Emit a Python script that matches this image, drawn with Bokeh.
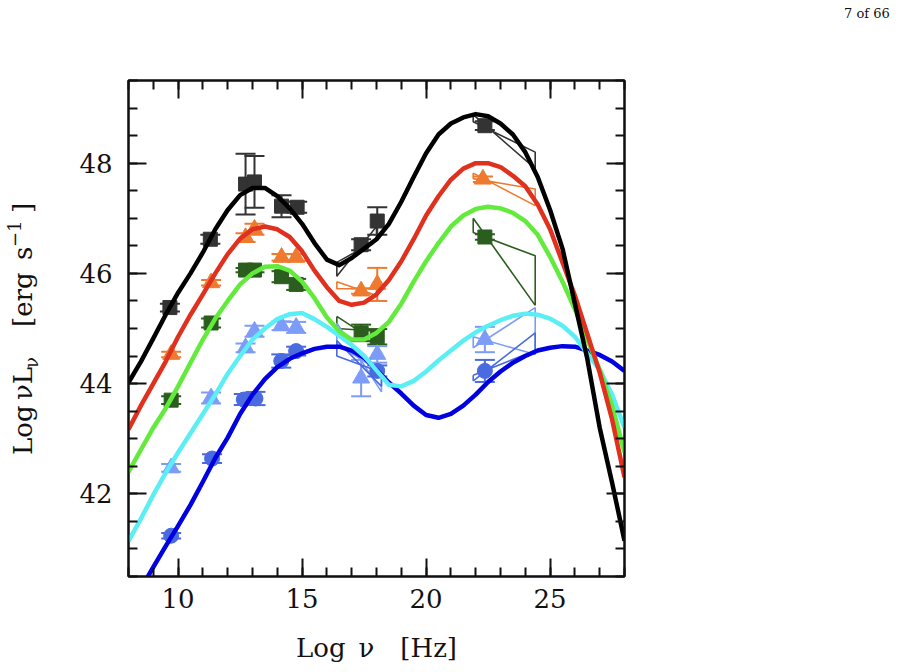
from bokeh.plotting import figure
from bokeh.layouts import row
from bokeh.models import Range1d, FixedTicker, LinearAxis, Div
from bokeh.embed import file_html
from bokeh.resources import INLINE

# ---------------- axis ticks ----------------
X_TICKS = [10, 15, 20, 25]
X_TICK_LABELS = ["10", "15", "20", "25"]
X_MINOR = [8, 9, 10, 11, 12, 13, 14, 15, 16, 17, 18, 19, 20, 21, 22, 23, 24, 25, 26, 27, 28]
Y_TICKS = [42, 44, 46, 48]
Y_TICK_LABELS = ["42", "44", "46", "48"]
Y_MINOR = [40.5, 41, 41.5, 42, 42.5, 43, 43.5, 44, 44.5, 45, 45.5, 46, 46.5, 47,
           47.5, 48, 48.5, 49, 49.5]

# ---------------- model curves ----------------
CURVE_X = [8, 8.5, 9, 9.5, 10, 10.5, 11, 11.5, 12, 12.5, 13, 13.5, 14, 14.5, 15, 15.5,
           16, 16.5, 17, 17.5, 18, 18.5, 19, 19.5, 20, 20.5, 21, 21.5, 22, 22.5, 23,
           23.5, 24, 24.5, 25, 25.5, 26, 26.5, 27, 27.5, 28]
CURVE_BLACK = [44.02, 44.4, 44.82, 45.25, 45.65, 46.0, 46.38, 46.8, 47.15, 47.42, 47.55,
               47.55, 47.4, 47.18, 46.9, 46.55, 46.25, 46.15, 46.28, 46.45, 46.62, 46.9,
               47.3, 47.75, 48.18, 48.52, 48.72, 48.83, 48.89, 48.85, 48.72, 48.52, 48.2,
               47.75, 47.15, 46.45, 45.45, 44.45, 43.2, 42.2, 41.15]
CURVE_RED = [43.17, 43.6, 44.0, 44.4, 44.85, 45.25, 45.62, 46.0, 46.35, 46.63, 46.8,
             46.85, 46.8, 46.66, 46.4, 46.05, 45.75, 45.5, 45.43, 45.47, 45.62, 45.88,
             46.22, 46.62, 47.05, 47.4, 47.7, 47.9, 48.0, 48.0, 47.93, 47.77, 47.58,
             47.25, 46.8, 46.2, 45.6, 44.9, 44.2, 43.35, 42.3]
CURVE_GREEN = [42.4, 42.8, 43.2, 43.55, 43.95, 44.38, 44.8, 45.18, 45.5, 45.8, 46.0,
               46.12, 46.13, 46.05, 45.85, 45.55, 45.2, 44.95, 44.8, 44.8, 44.92, 45.12,
               45.45, 45.85, 46.22, 46.55, 46.85, 47.05, 47.17, 47.21, 47.18, 47.1,
               46.95, 46.7, 46.3, 45.85, 45.35, 44.8, 44.25, 43.6, 42.75]
CURVE_CYAN = [41.14, 41.55, 41.98, 42.38, 42.75, 43.1, 43.45, 43.8, 44.18, 44.5, 44.8,
              45.0, 45.17, 45.26, 45.28, 45.17, 45.03, 44.87, 44.7, 44.5, 44.24, 43.98,
              43.95, 44.05, 44.22, 44.42, 44.6, 44.78, 44.93, 45.05, 45.15, 45.23, 45.27,
              45.25, 45.18, 45.05, 44.85, 44.55, 44.25, 43.8, 43.2]
CURVE_BLUE = [39.9, 40.28, 40.67, 41.05, 41.42, 41.8, 42.22, 42.65, 43.02, 43.45, 43.8,
              44.08, 44.3, 44.45, 44.55, 44.63, 44.67, 44.67, 44.6, 44.47, 44.25, 44.02,
              43.82, 43.6, 43.43, 43.38, 43.45, 43.6, 43.8, 44.03, 44.22, 44.38, 44.5,
              44.6, 44.65, 44.68, 44.67, 44.6, 44.52, 44.4, 44.23]

# ---------------- data points ----------------
BLACK_X = [9.67, 11.3, 12.72, 13.08, 14.17, 14.8, 17.38, 18.03, 22.37]
BLACK_Y = [45.38, 46.62, 47.62, 47.66, 47.22, 47.2, 46.52, 46.95, 48.68]
BLACK_E = [0.07, 0.08, 0.55, 0.47, 0.2, 0.1, 0.1, 0.25, 0.08]

ORANGE_X = [9.72, 11.33, 12.72, 13.08, 14.17, 14.76, 17.38, 18.03, 22.29]
ORANGE_Y = [44.53, 45.83, 46.65, 46.8, 46.29, 46.29, 45.68, 45.8, 47.71]
ORANGE_E = [0.05, 0.05, 0.08, 0.1, 0.06, 0.06, 0.05, 0.3, 0.05]

DGREEN_X = [9.72, 11.33, 12.72, 13.08, 14.17, 14.76, 17.38, 18.03, 22.37]
DGREEN_Y = [43.7, 45.1, 46.06, 46.06, 45.94, 45.8, 44.92, 44.85, 46.66]
DGREEN_E = [0.07, 0.08, 0.04, 0.04, 0.1, 0.1, 0.15, 0.14, 0.05]

LBLUE_X = [9.72, 11.33, 12.72, 13.08, 14.17, 14.76, 17.38, 18.03, 22.37]
LBLUE_Y = [42.47, 43.74, 44.65, 44.95, 45.05, 45.02, 44.1, 44.53, 44.8]
LBLUE_E = [0.07, 0.1, 0.08, 0.1, 0.08, 0.1, 0.33, 0.15, 0.23]

RBLUE_X = [9.72, 11.37, 12.65, 13.12, 14.16, 14.76, 18.03, 22.37]
RBLUE_Y = [41.24, 42.64, 43.71, 43.73, 44.41, 44.59, 44.23, 44.23]
RBLUE_E = [0.05, 0.08, 0.1, 0.12, 0.12, 0.08, 0.1, 0.2]

# bowties: [x_lo, x_hi, y_lo_bottom, y_lo_top, y_hi_bottom, y_hi_top]
BOW_BLACK_X = [16.4, 18.0, 45.95, 46.2, 46.6, 46.85]
BOW_BLACK_G = [21.9, 24.4, 48.75, 48.88, 47.9, 48.2]
BOW_ORANGE_X = [16.4, 18.0, 45.72, 45.85, 45.6, 45.72]
BOW_ORANGE_G = [21.9, 24.4, 47.72, 47.82, 47.23, 47.53]
BOW_DGREEN_X = [16.4, 18.1, 45.0, 45.22, 44.72, 44.95]
BOW_DGREEN_G = [21.9, 24.4, 46.74, 47.0, 45.42, 46.32]
BOW_LBLUE_X = [16.4, 18.2, 44.72, 45.1, 43.85, 44.2]
BOW_LBLUE_G = [21.9, 24.4, 44.65, 44.85, 44.53, 45.38]
BOW_RBLUE_X = [16.4, 18.2, 44.5, 44.78, 43.95, 44.2]
BOW_RBLUE_G = [21.9, 24.4, 44.05, 44.15, 44.6, 44.92]

XMIN, XMAX, YMIN, YMAX = 8, 28, 40.5, 49.5
W, H = 897, 672
LW, RW = 60, 57          # side strips for the y title and the page number
FW, FH, BL, BT = 496, 496, 128, 80

FONT = "DejaVu Serif"
INK = "#111111"

p = figure(frame_width=FW, frame_height=FH,
           x_range=Range1d(XMIN, XMAX), y_range=Range1d(YMIN, YMAX),
           output_backend="svg", toolbar_location=None,
           min_border_left=BL - LW, min_border_right=W - RW - BL - FW,
           min_border_top=BT, min_border_bottom=H - BT - FH,
           background_fill_color="white", border_fill_color="white")
p.grid.visible = False
p.outline_line_color = "black"
p.outline_line_width = 2


def style_axis(ax, ticks, minor, labels, show):
    ax.ticker = FixedTicker(ticks=ticks, minor_ticks=minor)
    ax.major_tick_in = 18
    ax.major_tick_out = 0
    ax.minor_tick_in = 9
    ax.minor_tick_out = 0
    ax.major_tick_line_width = 2
    ax.minor_tick_line_width = 2
    ax.axis_line_width = 2
    ax.major_tick_line_color = INK
    ax.minor_tick_line_color = INK
    ax.axis_line_color = INK
    ax.major_label_text_font = FONT
    ax.major_label_text_font_size = "26px"
    ax.major_label_text_color = INK
    if show:
        ax.major_label_overrides = {t: l for t, l in zip(ticks, labels)}
    else:
        ax.major_label_overrides = {t: "" for t in ticks}


style_axis(p.xaxis[0], X_TICKS, X_MINOR, X_TICK_LABELS, True)
style_axis(p.yaxis[0], Y_TICKS, Y_MINOR, Y_TICK_LABELS, True)
p.xaxis[0].major_label_standoff = 12
p.yaxis[0].major_label_standoff = 16
p.xaxis[0].axis_label = "Log\u2002ν\u2003[Hz]"
p.xaxis[0].axis_label_text_font = FONT
p.xaxis[0].axis_label_text_font_size = "26px"
p.xaxis[0].axis_label_text_font_style = "normal"
p.xaxis[0].axis_label_text_color = INK
p.xaxis[0].axis_label_standoff = 22

top = LinearAxis()
right = LinearAxis()
style_axis(top, X_TICKS, X_MINOR, X_TICK_LABELS, False)
style_axis(right, Y_TICKS, Y_MINOR, Y_TICK_LABELS, False)
p.add_layout(top, "above")
p.add_layout(right, "right")

SERIES = [
    (BLACK_X, BLACK_Y, BLACK_E, "square", "#333333", 14, [BOW_BLACK_X, BOW_BLACK_G]),
    (ORANGE_X, ORANGE_Y, ORANGE_E, "triangle", "#ee7a30", 17, [BOW_ORANGE_X, BOW_ORANGE_G]),
    (DGREEN_X, DGREEN_Y, DGREEN_E, "square", "#2b5e1e", 14, [BOW_DGREEN_X, BOW_DGREEN_G]),
    (LBLUE_X, LBLUE_Y, LBLUE_E, "triangle", "#7d9cf7", 17, [BOW_LBLUE_X, BOW_LBLUE_G]),
    (RBLUE_X, RBLUE_Y, RBLUE_E, "circle", "#4a6ae0", 15, [BOW_RBLUE_X, BOW_RBLUE_G]),
]

for xs, ys, es, marker, color, size, bows in SERIES:
    pxs, pys = [], []
    for b in bows:
        xl, xh, lb, lt, hb, ht = b
        pxs.append([xl, xh, xh, xl, xl])
        pys.append([lt, hb, ht, lb, lt])
    p.multi_line(pxs, pys, line_color=color, line_width=1.6)
    lo = [y - e for y, e in zip(ys, es)]
    hi = [y + e for y, e in zip(ys, es)]
    p.segment(x0=xs, y0=lo, x1=xs, y1=hi, line_color=color, line_width=2)
    p.scatter(x=xs + xs, y=lo + hi, marker="dash", size=20, line_color=color, line_width=2)
    p.scatter(x=xs, y=ys, marker=marker, size=size, fill_color=color, line_color=color)

CURVES = [
    (CURVE_BLUE, "#0000e0"),
    (CURVE_CYAN, "#5ceef5"),
    (CURVE_GREEN, "#62ea3c"),
    (CURVE_RED, "#e0301e"),
    (CURVE_BLACK, "#000000"),
]
for ys, color in CURVES:
    p.line(CURVE_X, ys, line_color=color, line_width=4.5, line_join="round")

# ---------------- free texts outside the plot box (HTML strips) ----------------
# y-axis title pieces: text, offset along the text direction, vertical offset, size
YTITLE = [("Log", 0, 0, 26), ("νL", 55, 0, 26), ("ν", 87, 6, 18),
          ("[erg", 128, 0, 26), ("s", 195, 0, 26), ("−1", 208, -11, 18), ("]", 242, 0, 26)]
BASE = 0.846  # baseline position as fraction of em (line-height = 1em)
spans = []
for t, along, shift, sz in YTITLE:
    topv = 22 + shift - BASE * sz
    spans.append(
        f'<span style="position:absolute;left:{along}px;top:{topv:.1f}px;'
        f'font-size:{sz}px;line-height:{sz}px;white-space:nowrap">{t}</span>')
ytitle_html = (
    f'<div style="position:relative;width:{LW}px;height:{H}px;overflow:visible;'
    f'font-family:\'{FONT}\';color:{INK}">'
    f'<div style="position:absolute;left:10px;top:455px;width:300px;height:30px;'
    f'transform:rotate(-90deg);transform-origin:0 0">' + "".join(spans) + '</div></div>')
left_div = Div(text=ytitle_html, width=LW, height=H, margin=(0, 0, 0, 0))

page_html = (
    f'<div style="position:relative;width:{RW}px;height:{H}px;'
    f'font-family:\'{FONT}\';color:{INK}">'
    f'<span style="position:absolute;left:4px;top:{18 - BASE * 13:.1f}px;font-size:13px;'
    f'line-height:13px;white-space:nowrap">7 of 66</span></div>')
right_div = Div(text=page_html, width=RW, height=H, margin=(0, 0, 0, 0))

layout = row(left_div, p, right_div, spacing=0)
open("out.html", "w").write(file_html(layout, INLINE))
